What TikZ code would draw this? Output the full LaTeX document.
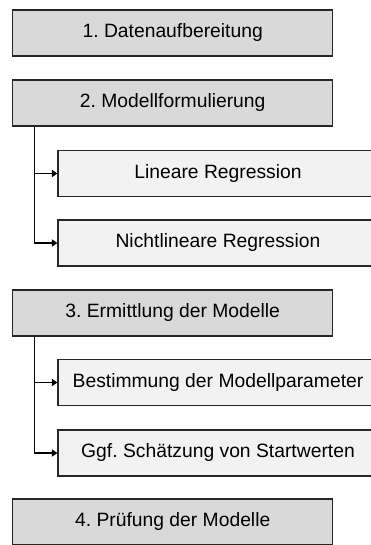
\documentclass[tikz,border=0pt]{standalone}
\usepackage{fontspec}
\setmainfont{Liberation Sans}
\usetikzlibrary{arrows.meta,positioning}
\frenchspacing

\tikzset{
  stepbox/.style={draw=black!85, line width=1.2pt, fill=black!15, minimum width=320pt, minimum height=46pt, inner sep=0pt},
  subbox/.style={stepbox, fill=black!5},
  branch/.style={draw=black, line width=1.2pt, -{Triangle[length=5.5pt,width=7pt]}}
}

\begin{document}
\begin{tikzpicture}[x=1pt,y=-1pt,font=\fontsize{19.3}{23}\selectfont]
  \useasboundingbox (0,0) rectangle (371,545);
  \clip (0,0) rectangle (371,545);

  % Main steps
  \node[stepbox] (prep) at (172.7,33) {1. Datenaufbereitung};
  \node[stepbox] (form) at (172.7,103) {2. Modellformulierung};
  \node[stepbox] (fit) at (172.7,313) {3. Ermittlung der Modelle};
  \node[stepbox] (check) at (172.7,522) {4. Prüfung der Modelle};

  % Sub steps
  \node[subbox] (lin) at (218,173.5) {Lineare Regression};
  \node[subbox] (nlin) at (218,243) {Nichtlineare Regression};
  \node[subbox] (par) at (218,382.5) {Bestimmung der Modellparameter};
  \node[subbox] (start) at (218,453) {Ggf. Schätzung von Startwerten};

  % Branch lines
  \coordinate (formfoot) at ([xshift=22.5pt]form.south west);
  \coordinate (fitfoot) at ([xshift=22.5pt]fit.south west);
  \draw[branch] (formfoot) |- (lin.west);
  \draw[branch] (formfoot) |- (nlin.west);
  \draw[branch] (fitfoot) |- (par.west);
  \draw[branch] (fitfoot) |- (start.west);
\end{tikzpicture}
\end{document}
